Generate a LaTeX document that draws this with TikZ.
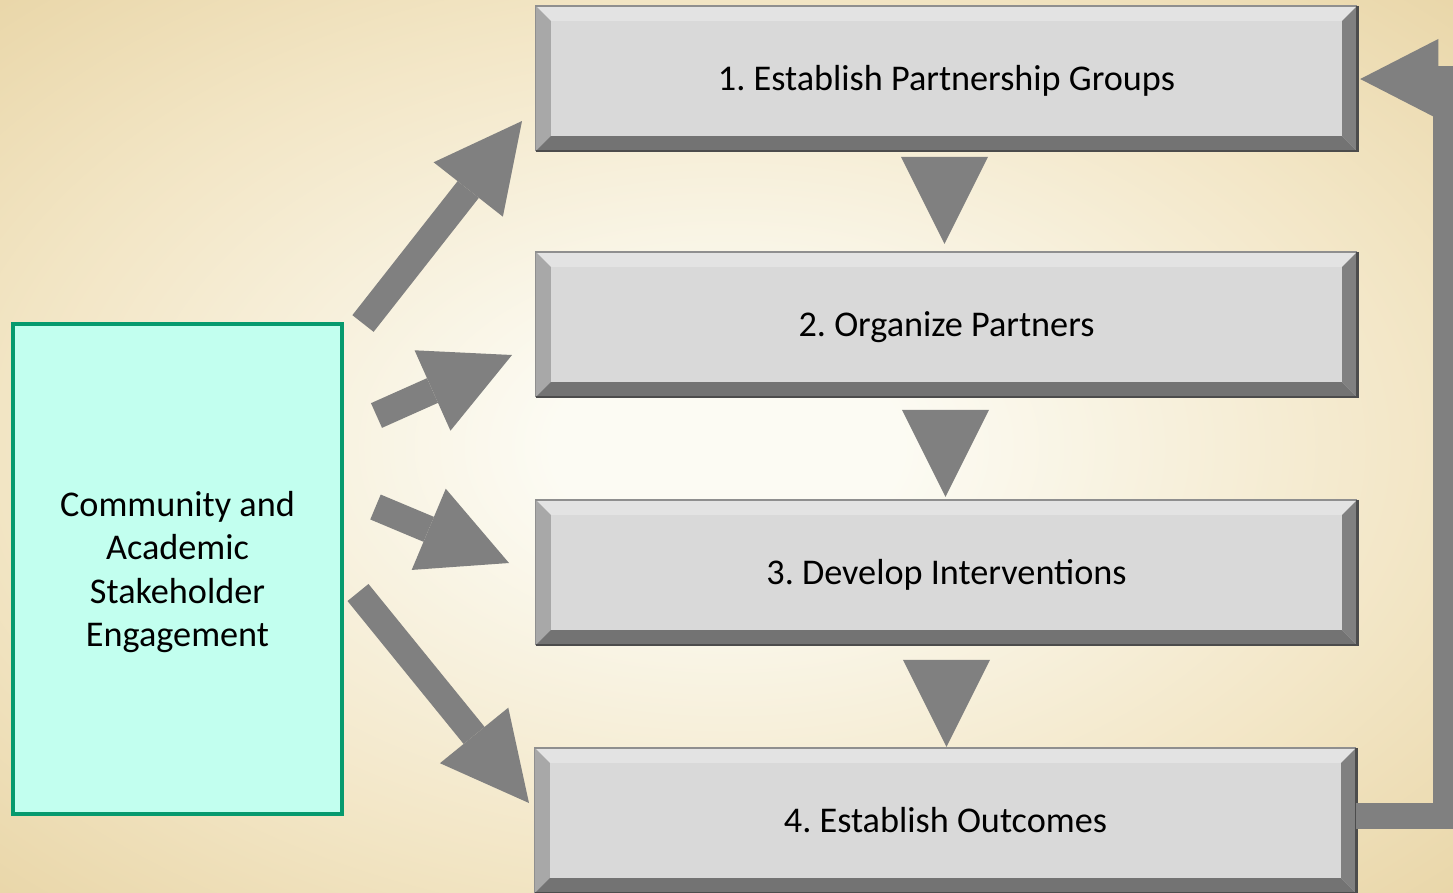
\documentclass[tikz,border=0pt]{standalone}
\usepackage{fontspec}
\setmainfont{Carlito}
\usetikzlibrary{calc,arrows.meta}
\definecolor{bgin}{HTML}{FCFBF3}
\definecolor{bgmid}{HTML}{F2E5C4}
\definecolor{bgout}{HTML}{E9D6A8}
\definecolor{face}{HTML}{D9D9D9}
\definecolor{arrowgray}{HTML}{808080}
\definecolor{mint}{HTML}{C2FFEF}
\definecolor{mintedge}{HTML}{069A6E}
\pgfdeclareradialshading{bgshade}{\pgfpoint{0bp}{0bp}}{color(0bp)=(bgin); color(6bp)=(bgin); color(25bp)=(bgmid); color(36bp)=(bgout); color(50bp)=(bgout)}
\tikzset{
	stepbox/.style={fill=face, minimum width=8.21cm, minimum height=1.45cm, inner sep=0pt, outer sep=0pt, text height=7.1pt, text depth=0pt, font=\fontsize{10.3}{12.2}\selectfont},
	bevtop/.style={fill=black!11},
	bevleft/.style={fill=black!34},
	bevbottom/.style={fill=black!55},
	bevright/.style={fill=black!50},
	edgelight/.style={draw=black!44, line width=0.4pt},
	edgedark/.style={draw=black!70, line width=0.8pt},
	blockarrow/.style={draw=arrowgray, line width=0.27cm, -{Triangle[length=0.87cm, width=0.88cm, line width=0pt]}},
	downhead/.style={draw=arrowgray, line width=0.27cm, -{Triangle[length=0.87cm, width=0.87cm, line width=0pt]}},
	looparrow/.style={draw=arrowgray, line width=0.26cm, line join=miter, -{Triangle[length=0.78cm, width=0.80cm, line width=0pt]}}
}

\begin{document}
\frenchspacing
\begin{tikzpicture}[x=0.01cm, y=-0.01cm]
			%%%%% START %%%%%
			
			\useasboundingbox (0, 0) rectangle (1453, 893);
			\shade[shading=bgshade] (0, 0) rectangle (1453, 893);
			
			\node[stepbox] (b1) at (946.5, 78.5) {1. Establish Partnership Groups};
			\node[stepbox] (b2) at (946.5, 324.5) {2. Organize Partners};
			\node[stepbox] (b3) at (946.5, 572.5) {3. Develop Interventions};
			\node[stepbox] (b4) at (945.5, 820.5) {4. Establish Outcomes};
			
			\foreach \b in {b1, b2, b3, b4}{
				\fill[bevtop] (\b.north west) -- (\b.north east) -- ($(\b.north east)+(-15, 15)$) -- ($(\b.north west)+(15, 15)$) -- cycle;
				\fill[bevleft] (\b.north west) -- ($(\b.north west)+(15, 15)$) -- ($(\b.south west)+(15, -15)$) -- (\b.south west) -- cycle;
				\fill[bevbottom] (\b.south west) -- ($(\b.south west)+(15, -15)$) -- ($(\b.south east)+(-15, -15)$) -- (\b.south east) -- cycle;
				\fill[bevright] (\b.north east) -- ($(\b.north east)+(-15, 15)$) -- ($(\b.south east)+(-15, -15)$) -- (\b.south east) -- cycle;
				\draw[edgelight] (\b.south west) -- (\b.north west) -- (\b.north east);
				\draw[edgedark] (\b.north east) -- (\b.south east) -- (\b.south west);
			}
			
			\node[fill=mint, draw=mintedge, line width=0.04cm, minimum width=3.29cm, minimum height=4.90cm, align=center, text depth=0pt, font=\fontsize{10.3}{12.4}\selectfont] (cae) at (177.5, 569) {Community and\\Academic\\Stakeholder\\Engagement};
			
			% arrows from the stakeholder box
			\coordinate (a1s) at (363, 323.5);
			\coordinate (a1e) at (522, 121);
			\coordinate (a2s) at (376.5, 415.5);
			\coordinate (a2e) at (512, 355);
			\coordinate (a3s) at (375.5, 507);
			\coordinate (a3e) at (509, 563);
			\coordinate (a4s) at (358, 592.5);
			\coordinate (a4e) at (529, 803);
			\draw[blockarrow] (a1s) -- (a1e);
			\draw[blockarrow] (a2s) -- (a2e);
			\draw[blockarrow] (a3s) -- (a3e);
			\draw[blockarrow] (a4s) -- (a4e);
			
			% steps
			\draw[downhead] ($(b1.south)+(-2, 6)$) -- ($(b2.north)+(-2, -8)$);
			\draw[downhead] ($(b2.south)+(-1, 13)$) -- ($(b3.north)+(-1, -3)$);
			\draw[downhead] ($(b3.south)+(0, 15)$) -- ($(b4.north)+(1, -1)$);
			
			% back to the first step
			\coordinate (loop) at (1446, 79);
			\draw[looparrow] ($(b4.east)+(0, -5)$) -- ($(b4.east -| loop)+(0, -5)$) -- (loop) -- ($(b1.east)+(3, 0.5)$);
			
			%%%%% END %%%%%
		\end{tikzpicture}
\end{document}
